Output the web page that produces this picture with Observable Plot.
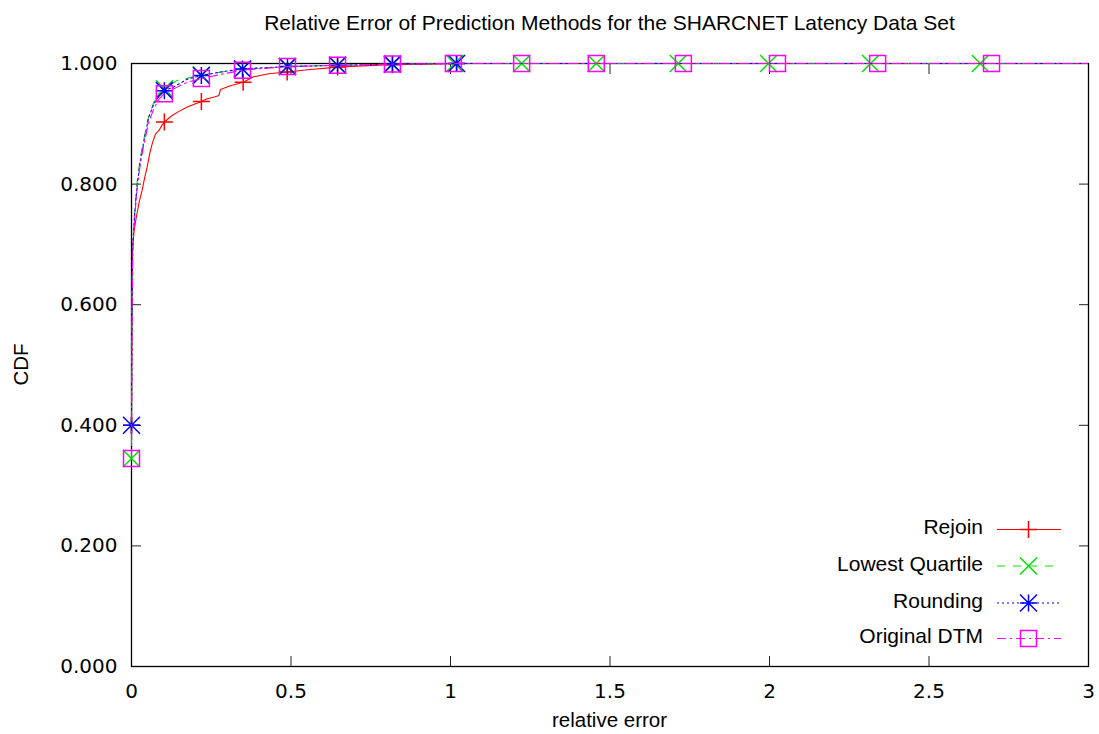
<!DOCTYPE html>
<html>
<head>
<meta charset="utf-8">
<script src="https://cdn.jsdelivr.net/npm/d3@7"></script>
<script src="https://cdn.jsdelivr.net/npm/@observablehq/plot@0.6"></script>
<style>
  html, body { margin: 0; padding: 0; background: #fff; }
  #chart svg { display: block; }
</style>
</head>
<body>
<div id="chart"></div>
<script>
// Series names, colours and dash patterns (in plotting order)
const seriesNames = ["Rejoin", "Lowest Quartile", "Rounding", "Original DTM"];
const seriesColors = ["#ff0000", "#00e000", "#0000ff", "#ff00ff"];
const seriesDashes = [null, "8,8", "2,3", "9,4,2,4"];

// Empirical CDF of the relative error: [relative error, cumulative fraction]
const rejoinCurve = [
  [0, 0.40], [0.0015, 0.60], [0.003, 0.69], [0.007, 0.718], [0.015, 0.745],
  [0.024, 0.770], [0.033, 0.789], [0.041, 0.810], [0.049, 0.828], [0.057, 0.850],
  [0.065, 0.867], [0.075, 0.883], [0.086, 0.889], [0.095, 0.897], [0.103, 0.903],
  [0.125, 0.913], [0.150, 0.921], [0.175, 0.928], [0.205, 0.934], [0.219, 0.937],
  [0.235, 0.941], [0.262, 0.945], [0.274, 0.947], [0.279, 0.957], [0.310, 0.963],
  [0.350, 0.969], [0.383, 0.978], [0.430, 0.983], [0.488, 0.986], [0.560, 0.990],
  [0.646, 0.994], [0.720, 0.996], [0.818, 0.998], [0.920, 0.999], [1.019, 1.0],
  [3.0, 1.0]
];
const quartileCurve = [
  [0, 0.345], [0.002, 0.62], [0.004, 0.70], [0.010, 0.755], [0.018, 0.805],
  [0.028, 0.845], [0.039, 0.875], [0.054, 0.913], [0.070, 0.936], [0.085, 0.950],
  [0.103, 0.958], [0.143, 0.972], [0.219, 0.981], [0.348, 0.991], [0.489, 0.995],
  [0.646, 0.997], [0.818, 0.999], [1.013, 1.0], [3.0, 1.0]
];
const roundingCurve = [
  [0, 0.40], [0.002, 0.62], [0.004, 0.70], [0.010, 0.75], [0.018, 0.80],
  [0.028, 0.84], [0.039, 0.872], [0.054, 0.911], [0.070, 0.933], [0.085, 0.945],
  [0.103, 0.955], [0.132, 0.961], [0.175, 0.974], [0.219, 0.980], [0.280, 0.986],
  [0.348, 0.991], [0.420, 0.993], [0.489, 0.995], [0.646, 0.997], [0.818, 0.999],
  [1.019, 1.0], [3.0, 1.0]
];
const dtmCurve = [
  [0, 0.345], [0.002, 0.60], [0.004, 0.69], [0.010, 0.745], [0.018, 0.795],
  [0.028, 0.835], [0.039, 0.866], [0.054, 0.903], [0.070, 0.925], [0.085, 0.940],
  [0.103, 0.950], [0.140, 0.960], [0.175, 0.969], [0.219, 0.975], [0.280, 0.982],
  [0.348, 0.989], [0.489, 0.995], [0.646, 0.997], [0.818, 0.999], [1.009, 1.0],
  [3.0, 1.0]
];

// Sample points marked with a symbol on each curve
const rejoinPoints = [
  [0, 0.40], [0.103, 0.903], [0.219, 0.937], [0.350, 0.969], [0.488, 0.986],
  [0.646, 0.994], [0.818, 0.998], [1.019, 1.0]
];
const quartilePoints = [
  [0, 0.345], [0.103, 0.958], [0.219, 0.981], [0.348, 0.991], [0.489, 0.995],
  [0.646, 0.997], [0.818, 0.999], [1.013, 1.0], [1.223, 1.0], [1.457, 1.0],
  [1.714, 1.0], [1.997, 1.0], [2.317, 1.0], [2.661, 1.0]
];
const roundingPoints = [
  [0, 0.40], [0.103, 0.955], [0.219, 0.980], [0.348, 0.991], [0.489, 0.995],
  [0.646, 0.997], [0.818, 0.999], [1.019, 1.0]
];
const dtmPoints = [
  [0, 0.345], [0.103, 0.950], [0.219, 0.975], [0.348, 0.989], [0.489, 0.995],
  [0.646, 0.997], [0.818, 0.999], [1.009, 1.0], [1.223, 1.0], [1.457, 1.0],
  [1.730, 1.0], [2.025, 1.0], [2.339, 1.0], [2.696, 1.0]
];

// Axis ticks and text
const xTicks = [0, 0.5, 1, 1.5, 2, 2.5, 3];
const yTicks = [0, 0.2, 0.4, 0.6, 0.8, 1.0];
const titleText = "Relative Error of Prediction Methods for the SHARCNET Latency Data Set";
const xLabel = "relative error";
const yLabel = "CDF";

// Outline point symbols; the radius passed to the dot is the half-size in px
const half = size => Math.sqrt(size / Math.PI);
const symPlus = {draw(ctx, size) { const h = half(size);
  ctx.moveTo(-h, 0); ctx.lineTo(h, 0); ctx.moveTo(0, -h); ctx.lineTo(0, h); }};
const symCross = {draw(ctx, size) { const h = half(size);
  ctx.moveTo(-h, -h); ctx.lineTo(h, h); ctx.moveTo(-h, h); ctx.lineTo(h, -h); }};
const symStar = {draw(ctx, size) { const h = half(size);
  ctx.moveTo(-h, 0); ctx.lineTo(h, 0); ctx.moveTo(0, -h); ctx.lineTo(0, h);
  ctx.moveTo(-h, -h); ctx.lineTo(h, h); ctx.moveTo(-h, h); ctx.lineTo(h, -h); }};
const symBox = {draw(ctx, size) { const h = half(size);
  ctx.moveTo(-h, -h); ctx.lineTo(h, -h); ctx.lineTo(h, h); ctx.lineTo(-h, h); ctx.closePath(); }};

const seriesSymbols = [symPlus, symCross, symStar, symBox];
const seriesRadius = [8.5, 8.5, 8.5, 8];
const curves = [rejoinCurve, quartileCurve, roundingCurve, dtmCurve];
const points = [rejoinPoints, quartilePoints, roundingPoints, dtmPoints];

const toRows = arr => arr.map(([x, y]) => ({x, y}));

const W = 1099, H = 734;
const M = {top: 63, right: 11, bottom: 68, left: 131};
const tickFont = "'DejaVu Sans', sans-serif";
const textFont = "'Liberation Sans', Arial, Helvetica, sans-serif";

const seriesMarks = seriesNames.flatMap((name, i) => [
  Plot.line(toRows(curves[i]), {
    x: "x", y: "y", stroke: seriesColors[i], strokeWidth: 1.1,
    strokeDasharray: seriesDashes[i] ?? undefined, clip: true
  }),
  Plot.dot(toRows(points[i]), {
    x: "x", y: "y", symbol: seriesSymbols[i], r: seriesRadius[i],
    stroke: seriesColors[i], fill: "none", strokeWidth: 1.5
  })
]);

const chart = Plot.plot({
  width: W, height: H,
  marginTop: M.top, marginRight: M.right, marginBottom: M.bottom, marginLeft: M.left,
  style: {background: "#fff", color: "#000", overflow: "visible"},
  x: {domain: [0, 3]},
  y: {domain: [0, 1]},
  marks: [
    // ticks point inward on all four sides
    Plot.axisX({anchor: "bottom", ticks: xTicks, tickSize: -10, tickPadding: 27,
      tickFormat: d => String(d), fontSize: 20, fontFamily: tickFont,
      stroke: "#222", label: null}),
    Plot.axisX({anchor: "top", ticks: xTicks, tickSize: -10, tickFormat: () => "",
      stroke: "#222", label: null}),
    Plot.axisY({anchor: "left", ticks: yTicks, tickSize: -10, tickPadding: 24,
      tickFormat: d3.format(".3f"), fontSize: 20, fontFamily: tickFont,
      stroke: "#222", label: null}),
    Plot.axisY({anchor: "right", ticks: yTicks, tickSize: -10, tickFormat: () => "",
      stroke: "#222", label: null}),
    Plot.frame({stroke: "#000", strokeWidth: 1.3}),
    ...seriesMarks
  ]
});

document.getElementById("chart").appendChild(chart);

// Title, axis labels and the key
const svg = d3.select(chart);
const plotCenterX = M.left + (W - M.left - M.right) / 2;

svg.append("text")
  .attr("x", plotCenterX).attr("y", 30)
  .attr("text-anchor", "middle")
  .style("font", `21px ${textFont}`).attr("fill", "#000")
  .text(titleText);

svg.append("text")
  .attr("x", plotCenterX).attr("y", 727)
  .attr("text-anchor", "middle")
  .style("font", `20.5px ${textFont}`).attr("fill", "#000")
  .text(xLabel);

svg.append("text")
  .attr("transform", `translate(28,${M.top + (H - M.top - M.bottom) / 2}) rotate(-90)`)
  .attr("text-anchor", "middle")
  .style("font", `20.5px ${textFont}`).attr("fill", "#000")
  .text(yLabel);

const key = svg.append("g");
const keyRowY = [529.5, 566, 603, 638.5];
seriesNames.forEach((name, i) => {
  const y = keyRowY[i];
  key.append("text")
    .attr("x", 983).attr("y", y + 4.5)
    .attr("text-anchor", "end")
    .style("font", `21px ${textFont}`).attr("fill", "#000")
    .text(name);
  key.append("line")
    .attr("x1", 997).attr("x2", 1061).attr("y1", y).attr("y2", y)
    .attr("stroke", seriesColors[i]).attr("stroke-width", 1.1)
    .attr("stroke-dasharray", seriesDashes[i]);
  key.append("path")
    .attr("transform", `translate(1028.5,${y})`)
    .attr("d", d3.symbol(seriesSymbols[i], Math.PI * seriesRadius[i] ** 2)())
    .attr("fill", "none").attr("stroke", seriesColors[i]).attr("stroke-width", 1.5);
});
</script>
</body>
</html>
